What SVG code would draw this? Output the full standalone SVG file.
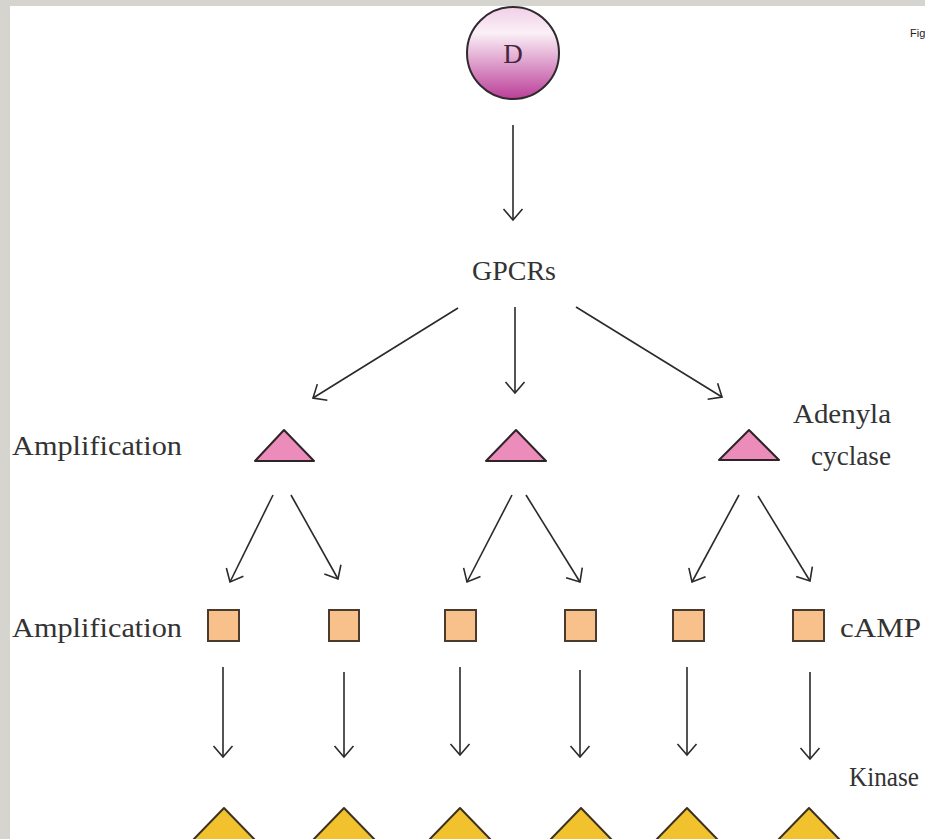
<svg xmlns="http://www.w3.org/2000/svg" width="925" height="839" viewBox="0 0 925 839">
  <style>
    .lbl { font-family: "Liberation Serif", "Times New Roman", serif; font-size: 28px; fill: #333; }
    .edge { stroke: #2a2a2a; stroke-width: 1.6; fill: none; marker-end: url(#head); }
    .enzyme { fill: #ec8cba; stroke: #2e2326; stroke-width: 2; stroke-linejoin: round; }
    .camp { fill: #f8c18b; stroke: #4a3b2e; stroke-width: 2; }
    .kinase { fill: #f2c12e; stroke: #3a3120; stroke-width: 2; stroke-linejoin: round; }
  </style>
  <defs>
    <linearGradient id="ligandFill" x1="0" y1="0" x2="0" y2="1">
      <stop offset="0" stop-color="#f1cfe6"/>
      <stop offset="0.28" stop-color="#fbf0f7"/>
      <stop offset="1" stop-color="#bb3e98"/>
    </linearGradient>
    <marker id="head" markerUnits="userSpaceOnUse" viewBox="-13 -12 15 24" markerWidth="15" markerHeight="24" refX="0" refY="0" orient="auto">
      <path d="M-11,-9.5 L0,0 L-11,9.5" fill="none" stroke="#2a2a2a" stroke-width="1.6"/>
    </marker>
  </defs>

  <!-- page background and frame -->
  <rect x="0" y="0" width="925" height="839" fill="#d6d4cf"/>
  <rect x="10" y="6" width="915" height="833" fill="#ffffff"/>

  <text x="910" y="37" font-family="Liberation Sans, Arial, sans-serif" font-size="11" fill="#222">Fig</text>

  <!-- connectors -->
  <g id="connectors">
    <line class="edge" x1="513" y1="125" x2="513" y2="220"/>
    <line class="edge" x1="458" y1="308" x2="313" y2="398"/>
    <line class="edge" x1="515" y1="307" x2="515" y2="393"/>
    <line class="edge" x1="576" y1="307" x2="722" y2="397"/>

    <line class="edge" x1="273" y1="495" x2="230" y2="582"/>
    <line class="edge" x1="291" y1="495" x2="338" y2="579"/>
    <line class="edge" x1="512" y1="495" x2="467" y2="582"/>
    <line class="edge" x1="526" y1="495" x2="580" y2="582"/>
    <line class="edge" x1="739" y1="495" x2="692" y2="582"/>
    <line class="edge" x1="758" y1="496" x2="810" y2="581"/>

    <line class="edge" x1="223" y1="667" x2="223" y2="757"/>
    <line class="edge" x1="344" y1="672" x2="344" y2="757"/>
    <line class="edge" x1="460" y1="667" x2="460" y2="755"/>
    <line class="edge" x1="580" y1="670" x2="580" y2="757"/>
    <line class="edge" x1="687" y1="667" x2="687" y2="755"/>
    <line class="edge" x1="810" y1="672" x2="810" y2="759"/>
  </g>

  <!-- ligand -->
  <g id="ligand">
    <circle cx="513" cy="53" r="46" fill="url(#ligandFill)" stroke="#2f2a2e" stroke-width="2"/>
    <text x="513" y="63" text-anchor="middle" font-family="Liberation Serif, serif" font-size="27" fill="#45253f">D</text>
  </g>

  <g id="gpcrs">
    <text class="lbl" x="514" y="280" text-anchor="middle" textLength="84" lengthAdjust="spacingAndGlyphs">GPCRs</text>
  </g>

  <!-- adenylate cyclase level -->
  <g id="label-amp-1">
    <text class="lbl" x="12" y="455" textLength="170" lengthAdjust="spacingAndGlyphs">Amplification</text>
  </g>
  <g id="ac-1"><polygon class="enzyme" points="284,430 314,461 255,461"/></g>
  <g id="ac-2"><polygon class="enzyme" points="516,430 546,461 486,461"/></g>
  <g id="ac-3"><polygon class="enzyme" points="749,430 779,460 719,460"/></g>
  <g id="label-ac">
    <text class="lbl" x="793" y="423" textLength="98" lengthAdjust="spacingAndGlyphs">Adenyla</text>
    <text class="lbl" x="811" y="465" textLength="80" lengthAdjust="spacingAndGlyphs">cyclase</text>
  </g>

  <!-- cAMP level -->
  <g id="label-amp-2">
    <text class="lbl" x="12" y="637" textLength="170" lengthAdjust="spacingAndGlyphs">Amplification</text>
  </g>
  <g id="camp-1"><rect class="camp" x="208" y="610" width="31" height="31"/></g>
  <g id="camp-2"><rect class="camp" x="329" y="610" width="30" height="31"/></g>
  <g id="camp-3"><rect class="camp" x="445" y="610" width="31" height="31"/></g>
  <g id="camp-4"><rect class="camp" x="565" y="610" width="31" height="31"/></g>
  <g id="camp-5"><rect class="camp" x="673" y="610" width="31" height="31"/></g>
  <g id="camp-6"><rect class="camp" x="793" y="610" width="31" height="31"/></g>
  <g id="label-camp">
    <text class="lbl" x="840" y="637" textLength="81" lengthAdjust="spacingAndGlyphs">cAMP</text>
  </g>

  <!-- kinase level -->
  <g id="label-kinase">
    <text class="lbl" x="849" y="786" font-size="27" textLength="70" lengthAdjust="spacingAndGlyphs">Kinase</text>
  </g>
  <g id="kinase-1"><polygon class="kinase" points="224,808 256,841 192,841"/></g>
  <g id="kinase-2"><polygon class="kinase" points="344,808 376,841 312,841"/></g>
  <g id="kinase-3"><polygon class="kinase" points="460,808 492,841 428,841"/></g>
  <g id="kinase-4"><polygon class="kinase" points="581,808 613,841 549,841"/></g>
  <g id="kinase-5"><polygon class="kinase" points="687,808 719,841 655,841"/></g>
  <g id="kinase-6"><polygon class="kinase" points="809,808 841,841 777,841"/></g>
</svg>
